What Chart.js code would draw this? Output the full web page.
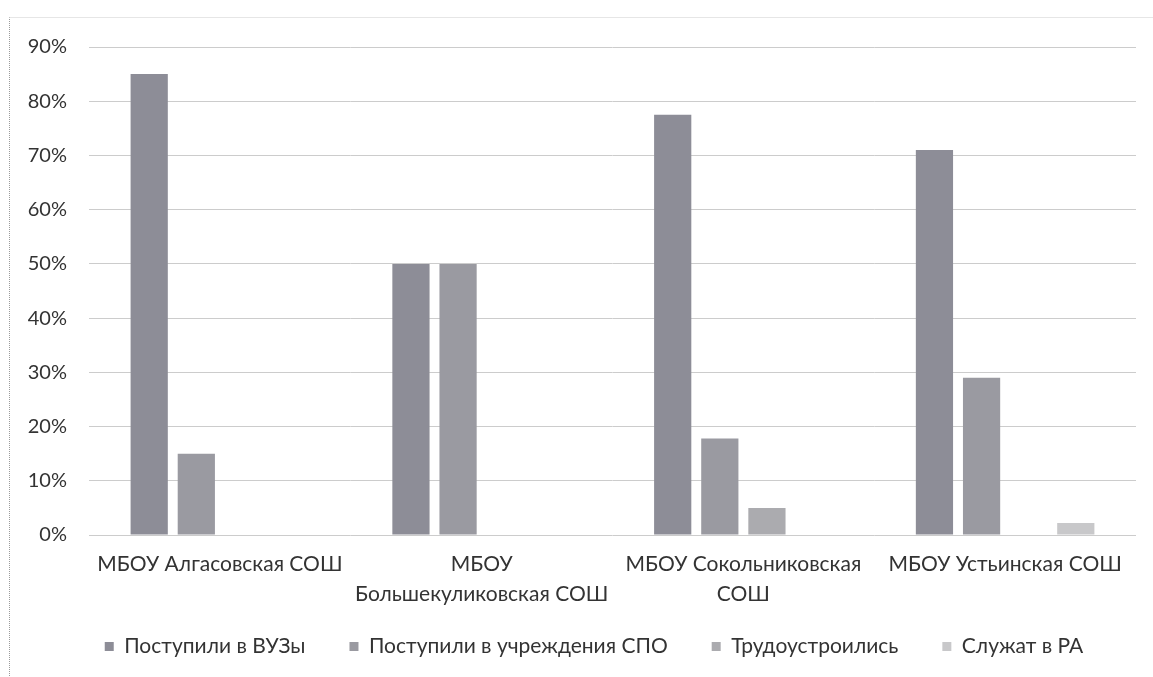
<!DOCTYPE html>
<html>
<head>
<meta charset="utf-8">
<script src="https://cdn.jsdelivr.net/npm/chart.js@4.4.1/dist/chart.umd.min.js"></script>
<style>
    body { margin: 0; background: #fff; overflow: hidden; }
    .frame {
        position: absolute; left: 9px; top: 17px; width: 1144px; height: 660px;
        border-left: 1px dotted #9a9a9a; border-top: 1px solid #e6e6e6;
    }
    #chart { position: absolute; left: 10px; top: 13px; }
</style>
</head>
<body>
<div class="frame"></div>
<canvas id="chart"></canvas>
<script>
const schools = [
    ['МБОУ Алгасовская СОШ'],
    ['МБОУ', 'Большекуликовская СОШ'],
    ['МБОУ Сокольниковская', 'СОШ'],
    ['МБОУ Устьинская СОШ']
];
const seriesNames = ['Поступили в ВУЗы', 'Поступили в учреждения СПО', 'Трудоустроились', 'Служат в РА'];
const vuz = [85, 50, 77.5, 71];
const spo = [15, 50, 17.8, 29];
const work = [0, 0, 5, 0];
const army = [0, 0, 0, 2.2];
const seriesColors = ['#8d8d97', '#9a9aa1', '#ababaf', '#c8c8ca'];

const textColor = '#333333';
const fontFamily = 'Lato, "Open Sans", sans-serif';

// the legend in the picture sits a bit right of the plot centre and close under the labels
const shiftLegend = {
    id: 'shiftLegend',
    afterLayout(chart) {
        chart.legend.left += 21;
        chart.legend.right += 21;
        chart.legend.top -= 23;
        chart.legend.bottom -= 23;
    }
};

const ctx = document.getElementById('chart').getContext('2d');
ctx.canvas.width = 1143;
ctx.canvas.height = 687;

const myChart = new Chart(ctx, {
    type: 'bar',
    data: {
        labels: schools,
        datasets: [vuz, spo, work, army].map((values, i) => ({
            label: seriesNames[i],
            data: values,
            backgroundColor: seriesColors[i],
            borderWidth: 0,
            categoryPercentage: 0.72,
            barPercentage: 0.79
        }))
    },
    options: {
        responsive: false,
        animation: false,
        layout: { padding: { top: 10, right: 17, bottom: 10, left: 0 } },
        plugins: {
            tooltip: { enabled: false },
            legend: {
                position: 'bottom',
                labels: {
                    color: textColor,
                    font: { family: fontFamily, size: 21 },
                    boxWidth: 9,
                    boxHeight: 9,
                    padding: 44
                }
            }
        },
        scales: {
            x: {
                grid: { display: false },
                border: { display: false },
                ticks: {
                    color: textColor,
                    font: { family: fontFamily, size: 21, lineHeight: 1.43 },
                    padding: 6,
                    maxRotation: 0,
                    autoSkip: false
                },
                afterFit: scale => { scale.height = 80; }
            },
            y: {
                min: 0,
                max: 90,
                grid: { color: '#cccccc', lineWidth: 1, drawTicks: false },
                border: { display: false },
                ticks: {
                    stepSize: 10,
                    color: textColor,
                    font: { family: fontFamily, size: 20 },
                    padding: 22,
                    callback: value => value + '%'
                },
                afterFit: scale => { scale.width = 79; }
            }
        }
    },
    plugins: [shiftLegend]
});
</script>
</body>
</html>
